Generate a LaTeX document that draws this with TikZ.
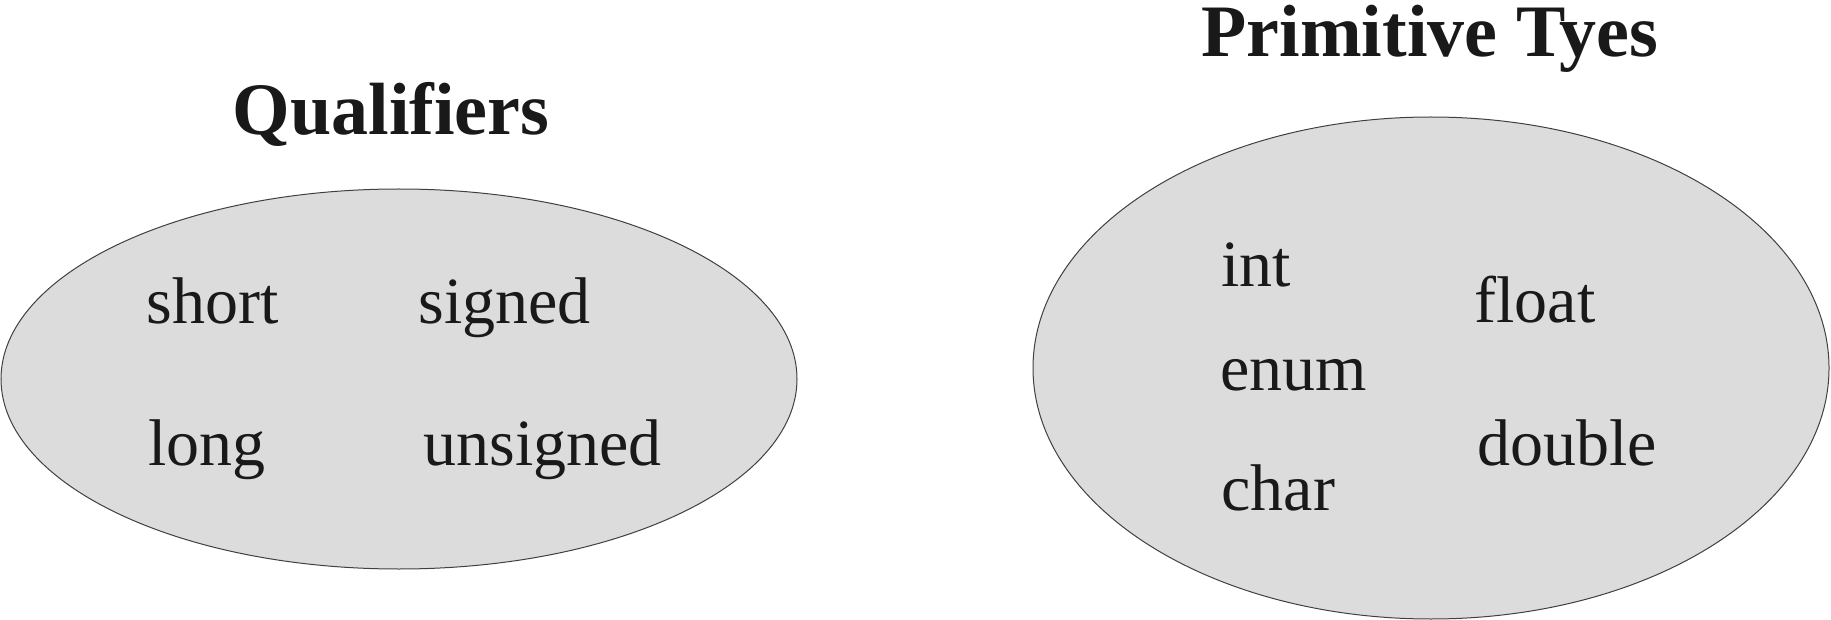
\documentclass[tikz,border=0pt]{standalone}
\usepackage{fontspec}
\setmainfont{Liberation Serif}
\usetikzlibrary{shapes.geometric}
\definecolor{setfill}{HTML}{DCDCDC}
\definecolor{setline}{HTML}{404040}
\tikzset{
  setshape/.style={ellipse, draw=setline, line width=0.5pt, fill=setfill, inner sep=0pt},
  title/.style={anchor=base, font=\fontsize{37pt}{40pt}\selectfont\bfseries, text=black!90, inner sep=0pt},
  item/.style={anchor=base west, font=\fontsize{33pt}{36pt}\selectfont, text=black!90, inner sep=0pt}
}
\begin{document}
\begin{tikzpicture}[x=0.5pt,y=-0.5pt]
\useasboundingbox (0,0) rectangle (1831,620);
\node[setshape, minimum width=398pt, minimum height=190pt] (qual) at (399,379) {};
\node[setshape, minimum width=398pt, minimum height=251pt] (prim) at (1431,368) {};
\node[title] (qt) at (391,135) {Qualifiers};
\node[title] (pt) at (1430,57) {Primitive Tyes};
\node[item] (short) at (146,323) {short};
\node[item] (signed) at (418,323) {signed};
\node[item] (long) at (148,465) {long};
\node[item] (unsigned) at (423,465) {unsigned};
\node[item] (int) at (1221,286) {int};
\node[item] (float) at (1474,322) {float};
\node[item] (enum) at (1220,390) {enum};
\node[item] (double) at (1477,465) {double};
\node[item] (char) at (1221,510) {char};
\end{tikzpicture}
\end{document}
